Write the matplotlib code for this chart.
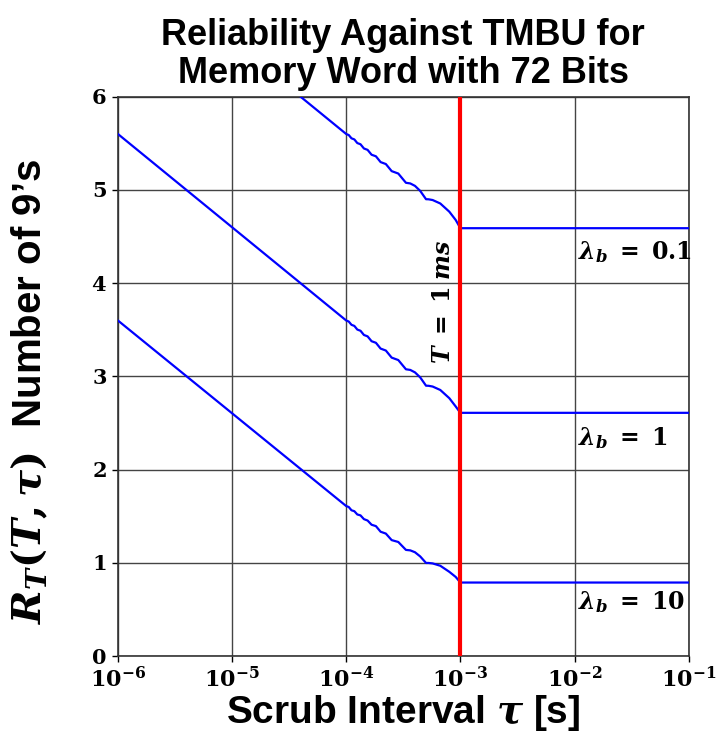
import numpy as np
import matplotlib
matplotlib.use("Agg")
import matplotlib.pyplot as plt
import matplotlib.ticker as ticker

# math text: bold serif (Cambria-like look)
plt.rcParams['mathtext.fontset'] = 'custom'
plt.rcParams['mathtext.rm'] = 'DejaVu Serif:bold'
plt.rcParams['mathtext.it'] = 'DejaVu Serif:italic:bold'
plt.rcParams['mathtext.bf'] = 'DejaVu Serif:bold'
plt.rcParams['font.family'] = 'Liberation Sans'

# scrub interval, as log10(tau)
log_tau = [-6.0, -4.0, -3.978, -3.954, -3.929, -3.903, -3.875, -3.845, -3.813,
           -3.778, -3.740, -3.699, -3.653, -3.602, -3.544, -3.477, -3.439,
           -3.398, -3.352, -3.301, -3.279, -3.243, -3.176, -3.097, -3.041,
           -3.0, -1.0]

# number of 9's for each failure rate
nines_01 = [7.6, 5.6, 5.589, 5.554, 5.542, 5.503, 5.490, 5.445, 5.430,
            5.378, 5.361, 5.299, 5.278, 5.202, 5.176, 5.077, 5.070,
            5.044, 4.990, 4.901, 4.900, 4.892, 4.855, 4.767, 4.678,
            4.59, 4.59]
nines_1 = [5.6, 3.6, 3.589, 3.554, 3.542, 3.503, 3.490, 3.445, 3.430,
           3.378, 3.361, 3.299, 3.278, 3.202, 3.176, 3.077, 3.070,
           3.044, 2.990, 2.901, 2.900, 2.892, 2.855, 2.767, 2.678,
           2.61, 2.61]
nines_10 = [3.6, 1.61, 1.60, 1.565, 1.555, 1.52, 1.51, 1.47, 1.455,
            1.41, 1.395, 1.335, 1.315, 1.245, 1.225, 1.14, 1.135,
            1.115, 1.07, 1.0, 1.0, 0.995, 0.97, 0.905, 0.85,
            0.79, 0.79]

curves = [nines_01, nines_1, nines_10]
curve_labels = [r"$\lambda_b\;=\;0.1$", r"$\lambda_b\;=\;1$", r"$\lambda_b\;=\;10$"]
label_y = [4.33, 2.34, 0.58]

T_total = 1e-3
xtick_exp = [-6, -5, -4, -3, -2, -1]
ytick_vals = [0, 1, 2, 3, 4, 5, 6]

tau = np.power(10.0, log_tau)

fig = plt.figure(figsize=(7.28, 7.44), dpi=100)
ax = fig.add_axes([0.162, 0.118, 0.784, 0.752])

for nines in curves:
    ax.plot(tau, nines, color='blue', linewidth=1.6, zorder=3)

ax.axvline(T_total, color='red', linewidth=3, zorder=4)

for lab, yv in zip(curve_labels, label_y):
    ax.text(10 ** -1.97, yv, lab, fontsize=17, ha='left', va='center', zorder=5)

ax.text(10 ** -3.145, 3.8, r"$T\;=\;1\;ms$", fontsize=17, rotation=90,
        ha='center', va='center', zorder=5)

ax.set_xscale('log')
ax.set_xlim(1e-6, 1e-1)
ax.set_ylim(0, 6)
ax.set_xticks([10.0 ** e for e in xtick_exp])
ax.set_xticklabels([r"$10^{%d}$" % e for e in xtick_exp])
ax.xaxis.set_minor_locator(ticker.NullLocator())
ax.set_yticks(ytick_vals)
ax.set_yticklabels([r"$%d$" % v for v in ytick_vals])

ax.grid(True, which='major', color='#444444', linewidth=1.0, zorder=0)
ax.tick_params(axis='both', which='major', direction='out', length=4,
               width=1, pad=4)
ax.tick_params(axis='x', labelsize=16)
ax.tick_params(axis='y', labelsize=15)
for sp in ax.spines.values():
    sp.set_color('#333333')
    sp.set_linewidth(1.2)

ax.set_title("Reliability Against TMBU for\nMemory Word with 72 Bits",
             fontsize=26, fontweight='bold', linespacing=1.1, pad=10)
ax.set_xlabel(r"Scrub Interval $\tau$ [s]", fontsize=28, fontweight='bold',
              labelpad=0)
fig.text(0.041, 0.474, r"$R_T(T,\tau)$  Number of 9’s", fontsize=29,
         fontweight='bold', rotation=90, ha='center', va='center')

fig.savefig("out.png", dpi=100)
